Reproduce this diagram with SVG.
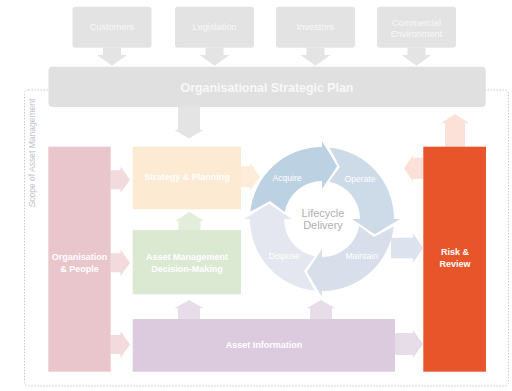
<svg xmlns="http://www.w3.org/2000/svg" xmlns:xlink="http://www.w3.org/1999/xlink" width="512" height="391" viewBox="0 0 512 391">
  <style>
    text { font-family: "Liberation Sans", Arial, sans-serif; text-anchor: middle; }
    .lbl { font-size: 9px; font-weight: bold; fill: #ffffff; }
    .ext { font-size: 9.2px; fill: #f8f8f8; }
    .cyc { font-size: 8.6px; fill: #ffffff; }
    .ext-box { fill: #e3e3e3; }
    .grey-arr { fill: #e4e4e4; }
    .pink-arr { fill: #f2dadd; }
    .orange-arr { fill: #fdecda; }
    .green-arr { fill: #e2eedb; }
    .purple-arr { fill: #e7dde9; }
    .blue-arr { fill: #dce3ee; }
    .red-arr { fill: #fbe1d7; }
  </style>
  <defs>
    <!-- one quarter of the lifecycle ring, head pointing clockwise at 12 o'clock -->
    <path id="seg" d="M -71.62 -7.40 A 72 72 0 0 1 0 -72 L 0 -78 L 15.16 -52.87 L 0 -30 L 0 -38 A 38 38 0 0 0 -37.34 -7.05 L -52.00 -17.91 Z"/>
  </defs>

  <rect width="512" height="391" fill="#ffffff"/>

  <!-- scope boundary -->
  <g id="scope">
    <rect x="24.5" y="90" width="484" height="296" rx="4" fill="none" stroke="#c6c8cc" stroke-width="1" stroke-dasharray="1.5 1.5"/>
    <text transform="translate(35 153) rotate(-90)" font-size="8.5" fill="#bfc1c8">Scope of Asset Management</text>
  </g>

  <!-- connectors -->
  <g id="connectors">
    <polygon class="grey-arr" points="103,47.7 121,47.7 121,55 127,55 112,65.7 97,55 103,55"/>
    <polygon class="grey-arr" points="205.5,47.7 223.5,47.7 223.5,55 229.5,55 214.5,65.7 199.5,55 205.5,55"/>
    <polygon class="grey-arr" points="306.5,47.7 324.5,47.7 324.5,55 330.5,55 315.5,65.7 300.5,55 306.5,55"/>
    <polygon class="grey-arr" points="407.5,47.7 425.5,47.7 425.5,55 431.5,55 416.5,65.7 401.5,55 407.5,55"/>
    <polygon class="grey-arr" points="178,107 200,107 200,130 203.5,130 189,138.5 174.5,130 178,130"/>
    <polygon class="pink-arr" points="110.7,170.3 120.5,170.3 120.5,166.5 130,179.8 120.5,193.1 120.5,189.3 110.7,189.3"/>
    <polygon class="pink-arr" points="110.7,253.3 120.5,253.3 120.5,249.5 130,262.8 120.5,276.1 120.5,272.3 110.7,272.3"/>
    <polygon class="pink-arr" points="110.7,335 120.5,335 120.5,331.2 130,344.5 120.5,357.8 120.5,354 110.7,354"/>
    <polygon class="orange-arr" points="241,166.2 250,166.2 250,162.7 260,176.7 250,190.7 250,187.2 241,187.2"/>
    <polygon class="green-arr" points="178.5,230 200.5,230 200.5,221 204,221 189.5,211.7 175,221 178.5,221"/>
    <polygon class="purple-arr" points="178,319 200,319 200,308.3 203.5,308.3 189,300 174.5,308.3 178,308.3"/>
    <polygon class="purple-arr" points="310,319 332,319 332,308.3 335.5,308.3 321,300 306.5,308.3 310,308.3"/>
    <polygon class="purple-arr" points="395,333 413,333 413,330 423,344 413,358 413,355 395,355"/>
    <polygon class="blue-arr" points="391,237.7 413,237.7 413,233.2 423,248 413,262.8 413,258.3 391,258.3"/>
    <polygon class="red-arr" points="423.3,157.8 413,157.8 413,155 404,168.3 413,181.6 413,178.8 423.3,178.8"/>
    <polygon class="red-arr" points="445,146.7 465,146.7 465,123.3 469.3,123.3 455,114 440.7,123.3 445,123.3"/>
  </g>

  <!-- external drivers -->
  <g id="customers">
    <rect class="ext-box" x="72.5" y="6.7" width="79" height="41" rx="3"/>
    <text class="ext" x="112" y="30">Customers</text>
  </g>
  <g id="legislation">
    <rect class="ext-box" x="175" y="6.7" width="79" height="41" rx="3"/>
    <text class="ext" x="214.5" y="30">Legislation</text>
  </g>
  <g id="investors">
    <rect class="ext-box" x="276" y="6.7" width="79" height="41" rx="3"/>
    <text class="ext" x="315.5" y="30">Investors</text>
  </g>
  <g id="commercial">
    <rect class="ext-box" x="377" y="6.7" width="79" height="41" rx="3"/>
    <text class="ext" x="416.5" y="26">Commercial</text>
    <text class="ext" x="416.5" y="36.6">Environment</text>
  </g>

  <g id="strategic-plan">
    <rect x="48.5" y="66.7" width="437.2" height="40.3" rx="4" fill="#e0e0e0"/>
    <text x="267" y="92.3" font-size="12.4" font-weight="bold" fill="#f8f8f8">Organisational Strategic Plan</text>
  </g>

  <g id="organisation-people">
    <rect x="48.3" y="146.7" width="62.4" height="225" fill="#e8c6cb"/>
    <text class="lbl" x="79.5" y="260">Organisation</text>
    <text class="lbl" x="79.5" y="272.3">&amp; People</text>
  </g>

  <g id="strategy-planning">
    <rect x="132.7" y="146.7" width="108.3" height="62.6" fill="#fcead2"/>
    <text class="lbl" x="187" y="180">Strategy &amp; Planning</text>
  </g>

  <g id="decision-making">
    <rect x="132.7" y="230" width="108.3" height="64.3" fill="#dbe9d2"/>
    <text class="lbl" x="187" y="260">Asset Management</text>
    <text class="lbl" x="187" y="272.3">Decision-Making</text>
  </g>

  <g id="asset-information">
    <rect x="132.7" y="319" width="262.3" height="52.7" fill="#dccbdf"/>
    <text class="lbl" x="264" y="348.3">Asset Information</text>
  </g>

  <g id="risk-review">
    <rect x="423.3" y="146.7" width="62.7" height="225" fill="#e8552a"/>
    <text class="lbl" x="455" y="255">Risk &amp;</text>
    <text class="lbl" x="455" y="266.6">Review</text>
  </g>

  <!-- lifecycle ring -->
  <g id="lifecycle" transform="translate(322 219)">
    <use id="acquire" xlink:href="#seg" fill="#bcd1e2"/>
    <use id="operate" xlink:href="#seg" transform="rotate(90)" fill="#cddae7"/>
    <use id="maintain" xlink:href="#seg" transform="rotate(180)" fill="#d8dfea"/>
    <use id="dispose" xlink:href="#seg" transform="rotate(270)" fill="#e4e7f0"/>
  </g>
  <g id="lifecycle-labels">
    <text class="cyc" x="287" y="181.3">Acquire</text>
    <text class="cyc" x="360" y="182">Operate</text>
    <text class="cyc" x="361.7" y="258.7">Maintain</text>
    <text class="cyc" x="284.3" y="258.7">Dispose</text>
    <text x="323" y="216.7" font-size="11" fill="#b0b0b0">Lifecycle</text>
    <text x="323" y="228.5" font-size="11" fill="#b0b0b0">Delivery</text>
  </g>
</svg>
